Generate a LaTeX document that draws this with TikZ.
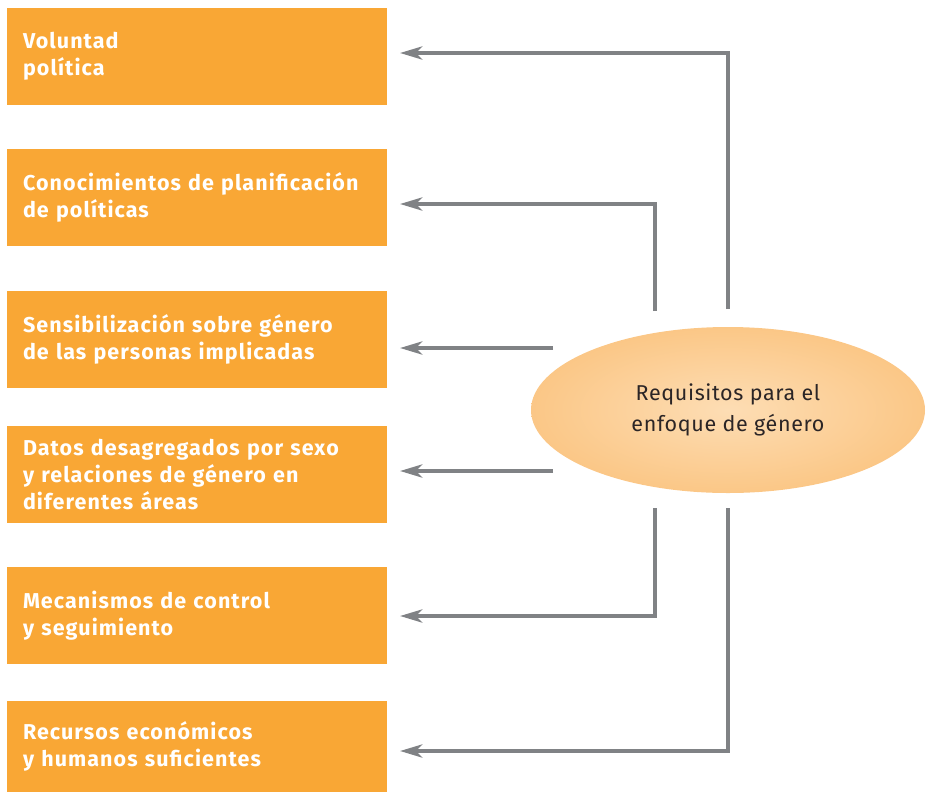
\documentclass[tikz,border=0pt]{standalone}
\usepackage{fontspec}
\setmainfont{Fira Sans}
\newfontfamily\boxfont{Fira Sans}[LetterSpace=5]
\newfontfamily\ellfont{Fira Sans}[LetterSpace=3]
\usetikzlibrary{arrows.meta,shapes.geometric}
\definecolor{boxorange}{HTML}{F9A735}
\definecolor{arrowgray}{HTML}{808285}
\definecolor{ellin}{HTML}{FDDDB4}
\definecolor{ellout}{HTML}{F9B159}
\definecolor{elltext}{HTML}{2B2526}
\pgfdeclareradialshading{ellshade}{\pgfpoint{0bp}{0bp}}{color(0bp)=(ellin); color(50bp)=(ellout)}
\tikzset{
  reqbox/.style={rectangle, fill=boxorange, minimum width=380pt, minimum height=97pt,
    inner xsep=16pt, text width=348pt, align=left, text=white,
    font=\boxfont\fontsize{21.5}{27}\selectfont\bfseries},
  arr/.style={draw=arrowgray, line width=4pt, -{Stealth[length=22pt,width=13pt,inset=6pt]}},
}
\begin{document}
\begin{tikzpicture}[x=1pt,y=-1pt]
    \useasboundingbox (0,0) rectangle (928,793);
    \node[reqbox] at (197,56.5) (B1) {Voluntad\\política};
    \node[reqbox] at (197,197) (B2) {Conocimientos de planificación\\de políticas};
    \node[reqbox] at (197,339.5) (B3) {Sensibilización sobre género\\de las personas implicadas};
    \node[reqbox] at (197,474.5) (B4) {Datos desagregados por sexo\\y relaciones de género en\\diferentes áreas};
    \node[reqbox] at (197,615.5) (B5) {Mecanismos de control\\y seguimiento};
    \node[reqbox, minimum height=91pt] at (197,746.5) (B6) {Recursos económicos\\y humanos suficientes};
    \node[ellipse, minimum width=394pt, minimum height=166pt, inner sep=0pt, shading=ellshade,
      align=center, text=elltext, font=\ellfont\fontsize{21.5}{31}\selectfont] at (728,410) (REQ)
      {Requisitos para el\\enfoque de género};
    \coordinate (S1) at (728,309);
    \coordinate (S2) at (655,311);
    \coordinate (S3) at (553,348);
    \coordinate (S4) at (553,471);
    \coordinate (S5) at (655,508);
    \coordinate (S6) at (728,508);
    \coordinate (T1) at (400,53);
    \coordinate (T2) at (400,204);
    \coordinate (T3) at (400,348);
    \coordinate (T4) at (400,471);
    \coordinate (T5) at (400,616);
    \coordinate (T6) at (400,751);
    \draw[arr] (S1) |- (T1);
    \draw[arr] (S2) |- (T2);
    \draw[arr] (S3) -- (T3);
    \draw[arr] (S4) -- (T4);
    \draw[arr] (S5) |- (T5);
    \draw[arr] (S6) |- (T6);
\end{tikzpicture}
\end{document}
